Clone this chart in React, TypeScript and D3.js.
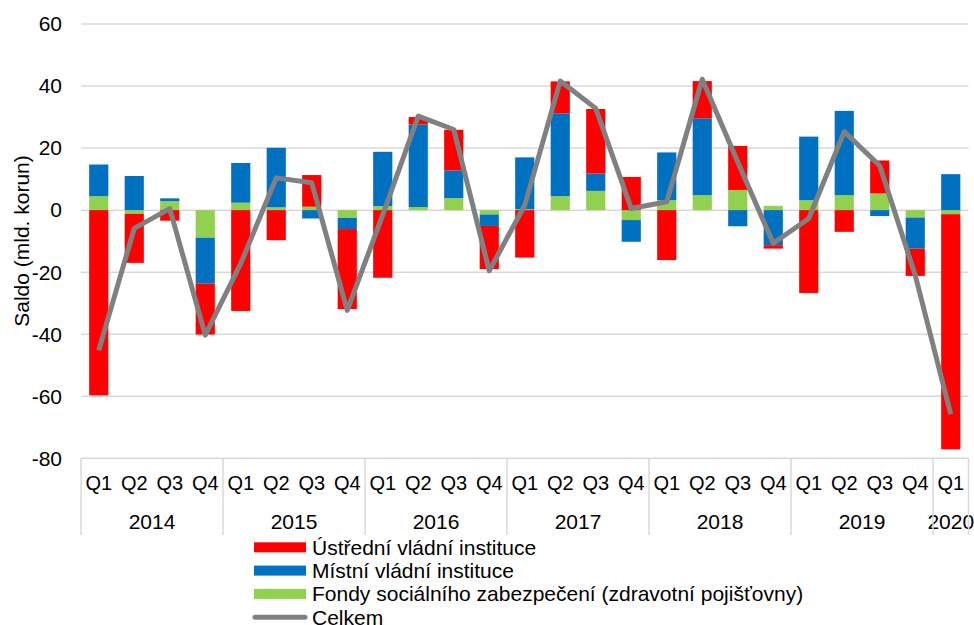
import React, { useEffect, useRef } from 'react';
import * as d3 from 'd3';

const years = ['2014', '2015', '2016', '2017', '2018', '2019', '2020'];
const quarters = ['Q1', 'Q2', 'Q3', 'Q4'];

// Ústřední vládní instituce
const ustredni = [
    -59.7, -15.8, -3.4, -16.4,
    -32.5, -9.7, 10.2, -25.8,
    -21.8, 2.4, 13.1, -13.9,
    -15.3, 10.3, 20.8, 10.7,
    -16.1, 12.0, 14.2, -1.1,
    -26.7, -7.0, 10.6, -8.8,
    -75.8
];
// Místní vládní instituce
const mistni = [
    10.2, 11.0, 0.9, -14.8,
    12.8, 19.2, -2.7, -3.6,
    17.5, 26.6, 8.9, -3.7,
    16.7, 26.7, 5.6, -7.0,
    15.4, 24.8, -5.2, -11.3,
    20.5, 27.2, -1.9, -10.0,
    11.6
];
// Fondy sociálního zabezpečení
const fondy = [
    4.5, -1.2, 2.9, -8.9,
    2.4, 0.9, 1.1, -2.5,
    1.3, 1.0, 3.9, -1.4,
    0.3, 4.5, 6.2, -3.2,
    3.2, 4.8, 6.5, 1.4,
    3.2, 4.8, 5.4, -2.4,
    -1.3
];
// Celkem
const celkem = [
    -45.2, -5.9, 0.5, -40.3,
    -17.2, 10.4, 8.8, -32.3,
    -1.5, 30.3, 26.0, -19.6,
    1.6, 41.6, 32.8, 0.5,
    2.7, 42.2, 15.5, -10.7,
    -2.7, 25.3, 14.3, -21.0,
    -65.8
];
const yTicks = [60, 40, 20, 0, -20, -40, -60, -80];

const seriesInfo = [
    { key: 'fondy', label: 'Fondy sociálního zabezpečení (zdravotní pojišťovny)', color: '#92d050' },
    { key: 'mistni', label: 'Místní vládní instituce', color: '#0070c0' },
    { key: 'ustredni', label: 'Ústřední vládní instituce', color: '#ff0000' },
];

const App = () => {
    const svgRef = useRef(null);
    const width = 974;
    const height = 625;
    const font = '"Liberation Sans", Arial, sans-serif';

    useEffect(() => {
        const svg = d3.select(svgRef.current);
        svg.selectAll('*').remove();

        const cats = [];
        const rows = [];
        years.forEach(y => {
            quarters.forEach(q => {
                if (cats.length < ustredni.length) {
                    const i = cats.length;
                    cats.push(y + q);
                    rows.push({ cat: y + q, year: y, q, ustredni: ustredni[i], mistni: mistni[i], fondy: fondy[i] });
                }
            });
        });

        const x = d3.scaleBand().domain(cats).range([81, 968.5]).paddingInner(0.46).paddingOuter(0.23);
        const y = d3.scaleLinear().domain([-80, 60]).range([458.3, 24]);

        // gridlines
        svg.append('g')
            .selectAll('line')
            .data(yTicks)
            .join('line')
            .attr('x1', 81)
            .attr('x2', 968.5)
            .attr('y1', d => y(d))
            .attr('y2', d => y(d))
            .attr('stroke', '#d9d9d9')
            .attr('stroke-width', 1.5);

        svg.append('g')
            .selectAll('text')
            .data(yTicks)
            .join('text')
            .attr('x', 62)
            .attr('y', d => y(d))
            .attr('dy', '0.35em')
            .attr('text-anchor', 'end')
            .attr('font-family', font)
            .attr('font-size', 21)
            .text(d => d);

        svg.append('text')
            .attr('transform', 'translate(29, 241) rotate(-90)')
            .attr('text-anchor', 'middle')
            .attr('font-family', font)
            .attr('font-size', 21)
            .text('Saldo (mld. korun)');

        // stacked bars
        const stack = d3.stack().keys(seriesInfo.map(s => s.key)).offset(d3.stackOffsetDiverging);
        const stacked = stack(rows);

        svg.append('g')
            .selectAll('g')
            .data(stacked)
            .join('g')
            .attr('fill', (d, i) => seriesInfo[i].color)
            .selectAll('rect')
            .data(d => d)
            .join('rect')
            .attr('x', d => x(d.data.cat))
            .attr('width', x.bandwidth())
            .attr('y', d => y(Math.max(d[0], d[1])))
            .attr('height', d => Math.abs(y(d[0]) - y(d[1])));

        // total line
        const line = d3.line().x((d, i) => x(cats[i]) + x.bandwidth() / 2).y(d => y(d));
        svg.append('path')
            .attr('d', line(celkem))
            .attr('fill', 'none')
            .attr('stroke', '#808080')
            .attr('stroke-width', 5)
            .attr('stroke-linejoin', 'round');

        // x axis: quarter labels, year labels, separators
        const step = x.step();
        svg.append('g')
            .selectAll('text')
            .data(rows)
            .join('text')
            .attr('x', d => x(d.cat) + x.bandwidth() / 2)
            .attr('y', 490)
            .attr('text-anchor', 'middle')
            .attr('font-family', font)
            .attr('font-size', 20)
            .text(d => d.q);

        const yearGroups = years.map(yr => {
            const idx = rows.map((r, i) => (r.year === yr ? i : -1)).filter(i => i >= 0);
            return { yr, start: 81 + idx[0] * step, end: 81 + (idx[idx.length - 1] + 1) * step };
        });

        svg.append('g')
            .selectAll('text')
            .data(yearGroups)
            .join('text')
            .attr('x', d => (d.start + d.end) / 2)
            .attr('y', 529)
            .attr('text-anchor', 'middle')
            .attr('font-family', font)
            .attr('font-size', 21)
            .text(d => d.yr);

        const seps = [yearGroups[0].start, ...yearGroups.map(d => d.end)];
        svg.append('g')
            .selectAll('line')
            .data(seps)
            .join('line')
            .attr('x1', d => d)
            .attr('x2', d => d)
            .attr('y1', 458.3)
            .attr('y2', 535)
            .attr('stroke', '#d9d9d9')
            .attr('stroke-width', 1.5);

        // legend
        const legendItems = [seriesInfo[2], seriesInfo[1], seriesInfo[0], { key: 'celkem', label: 'Celkem', color: '#808080' }];
        const lg = svg.append('g');
        legendItems.forEach((item, i) => {
            const cy = 547.3 + i * 23.3;
            if (item.key === 'celkem') {
                lg.append('line')
                    .attr('x1', 255).attr('x2', 305)
                    .attr('y1', cy).attr('y2', cy)
                    .attr('stroke', item.color)
                    .attr('stroke-width', 5)
                    .attr('stroke-linecap', 'round');
            } else {
                lg.append('rect')
                    .attr('x', 254).attr('y', cy - 5)
                    .attr('width', 52).attr('height', 10)
                    .attr('fill', item.color);
            }
            lg.append('text')
                .attr('x', 312)
                .attr('y', cy)
                .attr('dy', '0.35em')
                .attr('font-family', font)
                .attr('font-size', 21)
                .text(item.label);
        });
    }, []);

    return (
        <svg ref={svgRef} width={width} height={height}
            style={{ position: 'absolute', left: 0, top: 0, background: '#fff' }}></svg>
    );
};

export default App;
